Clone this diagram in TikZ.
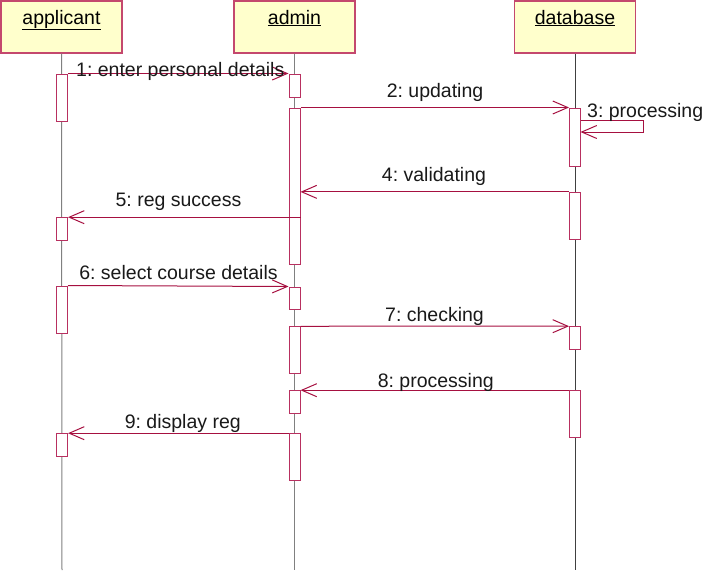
\documentclass[tikz,border=0pt]{standalone}
\usepackage{fontspec}
\setmainfont{Liberation Sans}
\frenchspacing
\usetikzlibrary{arrows.meta}
\definecolor{headfill}{RGB}{255,255,204}
\definecolor{headline}{RGB}{196,72,110}
\definecolor{msgcol}{RGB}{166,16,64}
\definecolor{actcol}{RGB}{184,48,96}
\definecolor{lifegrey}{RGB}{128,128,128}
\definecolor{lifedark}{RGB}{64,64,64}
\tikzset{
  head/.style={draw=headline, line width=1.2pt, fill=headfill, rectangle, inner sep=0pt,
    minimum width=121pt, minimum height=52pt, text height=23pt, text depth=29pt,
    font=\fontsize{19.5}{22}\selectfont},
  act/.style={draw=actcol, line width=1pt, fill=white, rectangle, inner sep=0pt, minimum width=11pt},
  msg/.style={draw=msgcol, line width=1pt, -{Straight Barb[length=15pt,width=13pt]}},
  life/.style={line width=1pt},
  lbl/.style={inner sep=0pt, anchor=base, font=\fontsize{19.5}{22}\selectfont, text=black!90},
}
\begin{document}
\begin{tikzpicture}[x=1pt,y=-1pt]
\useasboundingbox (0,0) rectangle (706,570);
% headers
\node[head] (applicant) at (61.5,27) {\underline{applicant}};
\node[head] (admin) at (294.5,27) {\underline{admin}};
\node[head] (database) at (575,27) {\underline{database}};
% lifeline ends
\coordinate (appEnd) at (62,570);
\coordinate (admEnd) at (294.5,570);
\coordinate (dbEnd) at (575,570);
\draw[life, lifegrey] (applicant.south) -- (appEnd);
\draw[life, lifegrey] (admin.south) -- (admEnd);
\draw[life, lifedark] (database.south) -- (dbEnd);
% activations: applicant
\node[act, minimum height=47pt] (p1) at (62,97.5) {};
\node[act, minimum height=22.6pt] (p2) at (62,229) {};
\node[act, minimum height=47pt] (p3) at (62,309.5) {};
\node[act, minimum height=22.6pt] (p4) at (62,445) {};
% activations: admin
\node[act, minimum height=23pt] (b1) at (294.5,85.5) {};
\node[act, minimum height=156pt] (b2) at (294.5,186) {};
\node[act, minimum height=22pt] (b3) at (294.5,298) {};
\node[act, minimum height=46.5pt] (b4) at (294.5,350) {};
\node[act, minimum height=22.6pt] (b5) at (294.5,402) {};
\node[act, minimum height=47pt] (b6) at (294.5,457.2) {};
% activations: database
\node[act, minimum height=58pt] (d1) at (575,137) {};
\node[act, minimum height=46.7pt] (d2) at (575,215.7) {};
\node[act, minimum height=22.6pt] (d3) at (575,338) {};
\node[act, minimum height=47pt] (d4) at (575,414.2) {};
% messages
\draw[msg] (p1.north east) -- (b1.north west);
\draw[msg] (b2.north east) -- (d1.north west);
\coordinate (s1) at (580.5,120);
\coordinate (s2) at (643,120);
\coordinate (s3) at (643,132);
\coordinate (s4) at (580.5,132);
\draw[msg] (s1) -- (s2) -- (s3) -- (s4);
\draw[msg] (d2.north west) -- (d2.north west -| b2.east);
\draw[msg] (b2.east |- p2.north) -- (p2.north east);
\draw[msg] (p3.north east) -- (b3.north west);
\draw[msg] (b4.north east) -- (d3.north west);
\draw[msg] (d4.north west) -- (b5.north east);
\draw[msg] (b6.north west) -- (p4.north east);
% labels
\node[lbl, anchor=base west] (l1) at (76,76) {1: enter personal details};
\node[lbl] (l2) at (435,97) {2: updating};
\node[lbl, anchor=base west] (l3) at (587,117.6) {3: processing};
\node[lbl] (l4) at (434,181.7) {4: validating};
\node[lbl] (l5) at (178.5,206.7) {5: reg success};
\node[lbl] (l6) at (178.5,279.3) {6: select course details};
\node[lbl] (l7) at (434.5,321) {7: checking};
\node[lbl] (l8) at (435.8,387.3) {8: processing};
\node[lbl] (l9) at (182.8,428.3) {9: display reg};
\end{tikzpicture}
\end{document}
